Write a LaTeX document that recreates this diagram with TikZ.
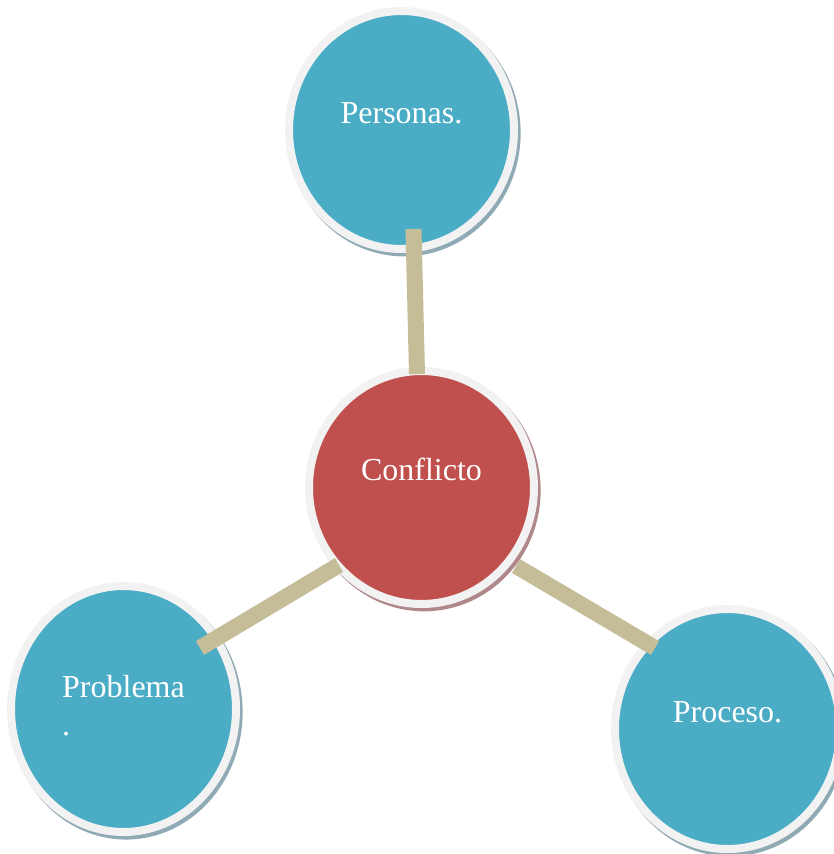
\documentclass[tikz,border=0pt]{standalone}
\usepackage{fontspec}
\setmainfont{Liberation Serif}
\usepackage{tikz}
\usetikzlibrary{shapes.geometric,shadows}
\definecolor{bubbleblue}{HTML}{4BACC6}
\definecolor{bubblered}{HTML}{C0504D}
\definecolor{ringgray}{HTML}{F2F2F2}
\definecolor{bartan}{HTML}{C4BD97}
\definecolor{blueshade}{HTML}{8FAAB4}
\definecolor{redshade}{HTML}{B0878A}
\tikzset{every picture/.style={x=1pt,y=-1pt}}
\tikzset{bubble/.style={ellipse,draw=ringgray,line width=8pt,inner sep=0pt,outer sep=0pt,
    minimum width=225pt,text=white,font=\fontsize{32}{38}\selectfont,
    text height=22pt,text depth=36pt}}
\tikzset{blueshadow/.style={drop shadow={shadow scale=1.036,shadow xshift=2.5pt,
    shadow yshift=-3pt,fill=blueshade,opacity=1}}}
\tikzset{redshadow/.style={drop shadow={shadow scale=1.036,shadow xshift=2.5pt,
    shadow yshift=-3pt,fill=redshade,opacity=1}}}
\tikzset{bar/.style={draw=bartan,line width=16pt}}

\begin{document}
\begin{tikzpicture}
      \useasboundingbox (0,0) rectangle (833,854);
      \node [bubble,blueshadow,fill=bubbleblue,minimum height=238pt] (pers) at (401.5,130) {Personas.};
      \node [bubble,redshadow,fill=bubblered,minimum height=233pt] (conf) at (421.5,487.5) {Conflicto};
      \node [bubble,blueshadow,fill=bubbleblue,minimum height=246pt,align=left,
        text height=60pt,text depth=8pt] (prob) at (123.5,709) {Problema\\.};
      \node [bubble,blueshadow,fill=bubbleblue,minimum height=240pt] (proc) at (727.5,729) {Proceso.};
      % bars
      \draw [bar] ([shift={(-4.5,-113.5)}]conf.center) -- ([shift={(12,99)}]pers.center);
      \draw [bar] ([shift={(-82.5,77.5)}]conf.center) -- ([shift={(76.5,-61)}]prob.center);
      \draw [bar] ([shift={(94.5,78.5)}]conf.center) -- ([shift={(-72.5,-81)}]proc.center);
    \end{tikzpicture}
\end{document}
